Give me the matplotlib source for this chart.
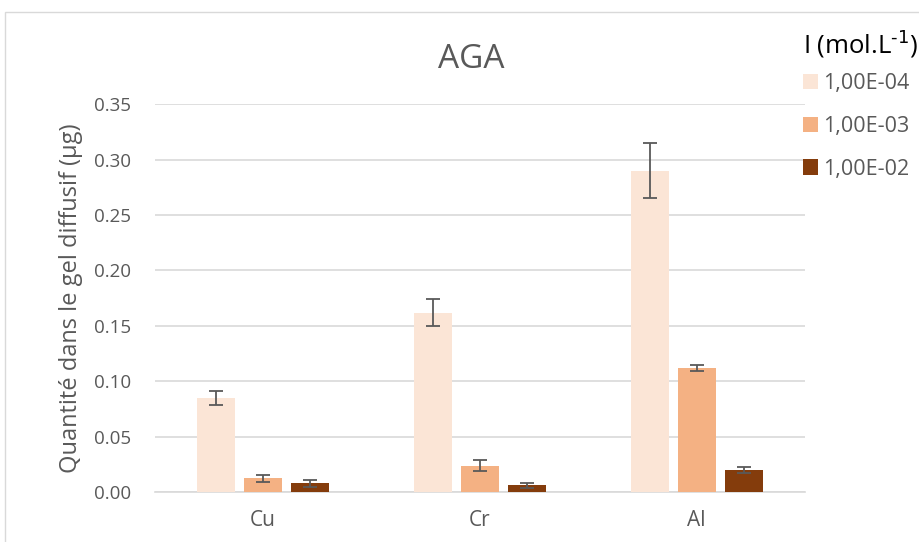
import numpy as np
import matplotlib
matplotlib.use("Agg")
import matplotlib.pyplot as plt
from matplotlib.patches import Rectangle, Patch

plt.rcParams['font.family'] = ['Open Sans', 'DejaVu Sans']

elements = ["Cu", "Cr", "Al"]
series_labels = ["1,00E-04", "1,00E-03", "1,00E-02"]
values = [
    [0.085, 0.162, 0.290],
    [0.0125, 0.024, 0.112],
    [0.008, 0.006, 0.020],
]
errors = [
    [0.006, 0.012, 0.025],
    [0.003, 0.005, 0.003],
    [0.003, 0.002, 0.003],
]
colors = ["#FBE5D6", "#F4B183", "#843C0C"]
grey = "#595959"

fig = plt.figure(figsize=(9.2, 5.42), dpi=100)
ax = fig.add_axes([0.168, 0.092, 0.707, 0.716])

# chart border (cut by the image edge on the right/bottom)
fig.patches.append(Rectangle((5 / 920, -0.1), 1.2, (542 - 12) / 542 + 0.1,
                             transform=fig.transFigure, fill=False,
                             edgecolor="#D9D9D9", linewidth=1))

x = np.arange(len(elements))
step = 0.217
width = 0.175
for i in range(3):
    ax.bar(x + (i - 1) * step, values[i], width, color=colors[i],
           yerr=errors[i], ecolor=grey, capsize=5,
           error_kw=dict(elinewidth=1.3, capthick=1.3), zorder=3)

ax.set_xlim(-0.5, 2.5)
ax.set_ylim(0, 0.35)
ax.set_yticks(np.arange(0, 0.351, 0.05))
ax.set_yticklabels(["%.2f" % v for v in np.arange(0, 0.351, 0.05)])
ax.set_xticks(x)
ax.set_xticklabels(elements)
ax.tick_params(axis="both", length=0, labelsize=13.5, colors=grey, pad=17)
ax.tick_params(axis="x", pad=13, labelsize=15)
ax.grid(axis="y", color="#D9D9D9", linewidth=1.2, zorder=0)
for s in ["top", "right", "left"]:
    ax.spines[s].set_visible(False)
ax.spines["bottom"].set_color("#D9D9D9")
ax.spines["bottom"].set_linewidth(1.2)

ax.set_ylabel("Quantité dans le gel diffusif (µg)", fontsize=17, color=grey, labelpad=8)
ax.set_title("AGA", fontsize=24, color=grey, pad=26, x=0.487)

handles = [Patch(facecolor=c) for c in colors]
leg = fig.legend(handles, series_labels, loc="upper left", bbox_to_anchor=(0.868, 0.958),
                 frameon=False, fontsize=15.5, labelcolor=grey,
                 title=r"I (mol.L$^{\text{-1}}$)",
                 title_fontsize=18.5, handlelength=0.7, handleheight=0.7,
                 handletextpad=0.25, labelspacing=1.0, alignment="left",
                 borderaxespad=0, borderpad=0.2)
leg._legend_box.sep = 10

fig.savefig("out.png", dpi=100)
